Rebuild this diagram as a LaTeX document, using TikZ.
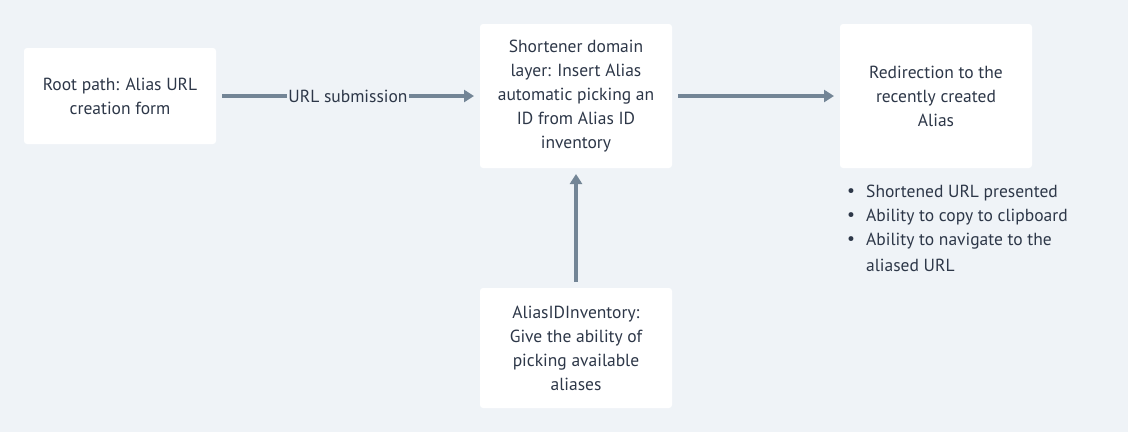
\documentclass[tikz,border=0pt]{standalone}
\usepackage{fontspec}
\setmainfont{PT Sans}
\usetikzlibrary{arrows.meta}
\definecolor{bg}{HTML}{EFF3F7}
\definecolor{arr}{HTML}{738596}
\definecolor{txt}{HTML}{2D3748}
\tikzset{
  fnt/.style={font=\fontsize{17.5pt}{24pt}\selectfont},
  box/.style={fill=white, rounded corners=3pt, minimum width=192pt, align=center, text=txt, fnt, inner sep=0pt},
  conn/.style={draw=arr, line width=4pt, -{Triangle[length=10pt,width=12pt]}},
  lbl/.style={fill=bg, text=txt, fnt, inner sep=1pt},
  note/.style={anchor=west, text=txt, fnt, inner sep=0pt},
}
\begin{document}
\begin{tikzpicture}[x=1pt,y=-1pt]
\fill[bg] (0,0) rectangle (1128,432);
\useasboundingbox (0,0) rectangle (1128,432);
\node[box, minimum height=96pt] (root) at (120,96) {Root path: Alias URL\\creation form};
\node[box, minimum height=144pt] (short) at (576,96) {Shortener domain\\layer: Insert Alias\\automatic picking an\\ID from Alias ID\\inventory};
\node[box, minimum height=144pt] (redir) at (936,96) {Redirection to the\\recently created\\Alias};
\node[box, minimum height=120pt] (inv) at (576,348) {AliasIDInventory:\\Give the ability of\\picking available\\aliases};
\coordinate (a1s) at (222,96);
\coordinate (a1e) at (474,96);
\coordinate (a2s) at (678,96);
\coordinate (a2e) at (834,96);
\coordinate (a3s) at (576,282);
\coordinate (a3e) at (576,174);
\draw[conn] (a1s) -- node[lbl] {URL submission} (a1e);
\draw[conn] (a2s) -- (a2e);
\draw[conn] (a3s) -- (a3e);
\node[note] (b1) at (847,193) {\textbullet};
\node[note] (b2) at (847,217) {\textbullet};
\node[note] (b3) at (847,241) {\textbullet};
\node[note] (n1) at (866,193) {Shortened URL presented};
\node[note] (n2) at (866,217) {Ability to copy to clipboard};
\node[note] (n3) at (866,241) {Ability to navigate to the};
\node[note] (n4) at (866,265) {aliased URL};
\end{tikzpicture}
\end{document}
